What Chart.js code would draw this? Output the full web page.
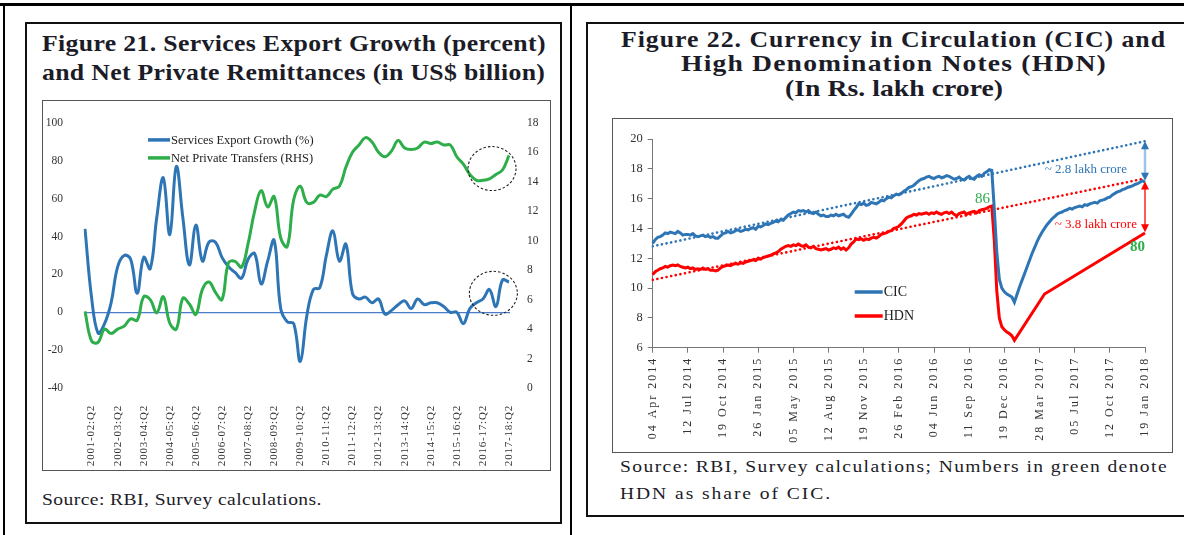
<!DOCTYPE html>
<html><head><meta charset="utf-8">
<script src="https://cdn.jsdelivr.net/npm/chart.js@4.4.0/dist/chart.umd.min.js"></script>
<style>
body{margin:0;background:#fff;}
#page{position:relative;width:1184px;height:535px;overflow:hidden;background:#fff;font-family:"Liberation Serif",serif;color:#1c1c28}
.ln{position:absolute;background:#000}
.box{position:absolute;box-sizing:border-box}
.t{position:absolute;white-space:nowrap;line-height:1;transform-origin:0 50%}
canvas{position:absolute}
</style></head><body><div id="page">
<div class="ln" style="left:0;top:3px;width:1184px;height:3px"></div>
<div class="ln" style="left:3px;top:3px;width:2px;height:532px"></div>
<div class="ln" style="left:570px;top:3px;width:2px;height:532px"></div>
<div class="box" style="left:25px;top:22px;width:537px;height:502px;border:2.5px solid #111"></div>
<div class="box" style="left:586px;top:22px;width:620px;height:495px;border:2.5px solid #111"></div>
<div class="box" style="left:42px;top:100px;width:509px;height:371px;border:1.5px solid #555"></div>
<div class="box" style="left:612px;top:118px;width:561px;height:335px;border:1.5px solid #555"></div>

<div class="t fit" data-w="504" data-m="1.12" style="left:42px;top:32px;font-size:23px;font-weight:bold">Figure 21. Services Export Growth (percent)</div>
<div class="t fit" data-w="503" data-m="1.12" style="left:42px;top:61px;font-size:23px;font-weight:bold">and Net Private Remittances (in US$ billion)</div>
<div class="t fit" data-w="545" data-m="1.12" style="left:621px;top:28px;font-size:23px;font-weight:bold">Figure 22. Currency in Circulation (CIC) and</div>
<div class="t fit" data-w="426" data-m="1.2" style="left:681px;top:52px;font-size:23px;font-weight:bold">High Denomination Notes (HDN)</div>
<div class="t fit" data-w="218" data-m="1.2" style="left:785px;top:77px;font-size:23px;font-weight:bold">(In Rs. lakh crore)</div>
<div class="t fit" data-w="280" data-m="1.15" style="left:42px;top:491px;font-size:17px">Source: RBI, Survey calculations.</div>
<div class="t fit" data-w="548" data-m="1.15" style="left:620px;top:458px;font-size:17px">Source: RBI, Survey calculations; Numbers in green denote</div>
<div class="t fit" data-w="212" data-m="1.15" style="left:620px;top:485px;font-size:17px">HDN as share of CIC.</div>

<canvas id="c1" width="504" height="366" style="left:44px;top:102px"></canvas>
<canvas id="c2" width="556" height="330" style="left:614px;top:120px"></canvas>
</div>
<script>
// ---------- Figure 21 data (quarterly, 2001-02:Q1 .. 2017-18:Q2) ----------
const quarters = [];
for (let fy = 2001; fy <= 2017; fy++) {
  for (let q = 1; q <= 4; q++) {
    if (quarters.length < 66) quarters.push(fy + '-' + String((fy + 1) % 100).padStart(2, '0') + ':Q' + q);
  }
}
const exportGrowth = [44, 8, -11, -6, 5, 24, 30, 28, 10, 29, 23, 50, 71, 41, 77, 50, 25, 46, 27, 37,
  37, 29, 24, 21, 18, 28, 31, 15, 27, 38, 2, -5, -6, -26, -2, 12, 13, 30, 43, 27,
  36, 10, 7, 8, 5, 7, -1, 1, 4, 6, 2, 7, 4, 5, 5, 3, 0, 0, -6, 2,
  5, 7, 12, 3, 17, 16];
const privateTransfers = [5.2, 3.2, 3.1, 4.0, 3.7, 4.0, 4.2, 4.7, 4.6, 6.2, 6.0, 5.1, 6.2, 4.4, 4.0, 6.1, 5.7, 5.0, 6.7, 7.2,
  6.5, 6.0, 8.5, 8.6, 8.2, 9.8, 12.0, 13.4, 12.3, 13.0, 10.2, 9.6, 12.8, 13.7, 12.6, 12.6, 13.1, 13.0, 13.5, 13.7,
  15.0, 16.0, 16.5, 17.0, 16.7, 16.0, 15.7, 16.1, 16.8, 16.3, 16.2, 16.3, 16.7, 16.6, 16.7, 16.5, 16.5, 15.7, 15.2, 14.5,
  14.1, 14.1, 14.2, 14.5, 14.8, 15.8];
// dashed circles: [quarter index, value, axis]
const circles21 = [[62.4, 14.9, 'y1'], [62.6, 10, 'y']];

// ---------- Figure 22 data (weekly, 04 Apr 2014 .. 19 Jan 2018) ----------
const weeks = [];
for (let w = 0; w <= 196; w++) weeks.push(w);
const dateTicks = ['04 Apr 2014', '12 Jul 2014', '19 Oct 2014', '26 Jan 2015', '05 May 2015', '12 Aug 2015',
  '19 Nov 2015', '26 Feb 2016', '04 Jun 2016', '11 Sep 2016', '19 Dec 2016', '28 Mar 2017', '05 Jul 2017',
  '12 Oct 2017', '19 Jan 2018'];
const cic = [
  13.0, 13.25, 13.4, 13.45, 13.55, 13.7, 13.65, 13.75, 13.7, 13.65,
  13.8, 13.7, 13.55, 13.6, 13.6, 13.55, 13.65, 13.5, 13.45, 13.5,
  13.55, 13.45, 13.5, 13.4, 13.45, 13.35, 13.35, 13.5, 13.65, 13.7,
  13.8, 13.7, 13.75, 13.85, 13.9, 13.8, 13.85, 13.95, 13.9, 14.0,
  14.05, 13.95, 14.15, 14.1, 14.2, 14.3, 14.25, 14.35, 14.4, 14.5,
  14.45, 14.6, 14.55, 14.75, 14.9, 15.0, 15.1, 15.05, 15.2, 15.15,
  15.2, 15.1, 15.2, 15.05, 15.0, 15.1, 14.95, 14.85, 14.9, 14.8,
  14.8, 14.9, 14.85, 14.95, 14.85, 14.9, 14.95, 14.8, 14.75, 14.95,
  15.2, 15.4, 15.65, 15.6, 15.7, 15.55, 15.6, 15.75, 15.7, 15.65,
  15.75, 15.9, 15.85, 16.0, 16.1, 16.05, 16.2, 16.3, 16.25, 16.35,
  16.5, 16.6, 16.75, 16.8, 16.9, 17.05, 17.2, 17.3, 17.35, 17.45,
  17.5, 17.4, 17.35, 17.45, 17.5, 17.4, 17.45, 17.55, 17.5, 17.4,
  17.3, 17.35, 17.45, 17.3, 17.25, 17.4, 17.5, 17.35, 17.3, 17.5,
  17.6, 17.5, 17.7, 17.8, 17.95, 17.9, 15.3, 12.4, 10.6, 10.0,
  9.75, 9.6, 9.5, 9.4, 9.05, 9.55, 10.05, 10.5, 10.95, 11.4,
  11.85, 12.3, 12.7, 13.1, 13.45, 13.75, 14.0, 14.25, 14.45, 14.65,
  14.8, 14.95, 15.05, 15.1, 15.2, 15.25, 15.35, 15.3, 15.4, 15.45,
  15.5, 15.45, 15.6, 15.55, 15.65, 15.7, 15.75, 15.7, 15.85, 15.9,
  15.95, 16.05, 16.1, 16.25, 16.35, 16.45, 16.5, 16.6, 16.65, 16.75,
  16.8, 16.85, 16.95, 17.0, 17.1, 17.2, 17.1];
const hdnWeekly = [
  10.9, 11.1, 11.2, 11.3, 11.35, 11.45, 11.4, 11.5, 11.55, 11.5,
  11.55, 11.45, 11.4, 11.35, 11.4, 11.3, 11.35, 11.25, 11.3, 11.25,
  11.35, 11.25, 11.3, 11.2, 11.2, 11.15, 11.2, 11.35, 11.45, 11.5,
  11.55, 11.5, 11.6, 11.65, 11.6, 11.7, 11.65, 11.75, 11.8, 11.85,
  11.9, 11.85, 12.0, 11.95, 12.05, 12.1, 12.15, 12.2, 12.3, 12.35,
  12.45, 12.6, 12.7, 12.8, 12.85, 12.8, 12.9, 12.85, 12.95, 12.85,
  12.8, 12.9, 12.75, 12.7, 12.8, 12.65, 12.6, 12.55, 12.6, 12.65,
  12.55, 12.6, 12.7, 12.65, 12.75, 12.6, 12.7, 12.55, 12.7, 12.95,
  13.1, 13.3, 13.25, 13.3, 13.2, 13.3, 13.25, 13.35, 13.4, 13.35,
  13.45, 13.6, 13.65, 13.7, 13.8, 13.85, 14.0, 14.05, 14.15, 14.3,
  14.5, 14.7, 14.8, 14.85, 14.95, 14.9, 15.0, 14.95, 15.0, 15.05,
  14.95, 15.05, 15.0, 15.1, 15.0, 14.95, 15.05, 15.1, 15.0, 15.1,
  14.95, 14.85, 15.0, 15.05, 15.1, 14.95, 15.05, 15.1, 15.15, 15.05,
  15.2, 15.25, 15.3, 15.35, 15.45, 15.5, 13.2, 9.8, 8.0, 7.4,
  7.2, 7.05, 6.95, 6.8, 6.5];
const hdnLater = [[156, 9.6], [196, 13.7]];           // [week, value] after the trough
const cicTrend = [[0, 12.8], [196, 19.85]];
const hdnTrend = [[0, 10.55], [196, 17.35]];
const gapArrows = [[196, 19.85, 17.2, 'cic'], [196, 17.15, 13.75, 'hdn']];
const notes22 = [
  [131.3, 15.97, '86', 'green', 'center'],
  [193, 12.75, '80', 'green', 'center'],
  [156.1, 17.92, '~ 2.8 lakh crore', 'cic', 'left'],
  [160.1, 14.23, '~ 3.8 lakh crore', 'hdn', 'left']
];

// ---------- helpers ----------
const sparse = (pairs) => { const a = weeks.map(() => null); pairs.forEach(([w, v]) => { a[w] = v; }); return a; };
const hdn = weeks.map((w) => (w < hdnWeekly.length ? hdnWeekly[w] : null));
hdnLater.forEach(([w, v]) => { hdn[w] = v; });

const COL = { blue: '#2E75B6', green: '#2DAE4A', cic: '#2E75B6', hdn: '#FF0000', text: '#333' };
const FAM = '"Liberation Serif", serif';
Chart.defaults.font.family = FAM;
Chart.defaults.color = COL.text;

function spacingPlugin(px) {
  return {
    id: 'spacing',
    afterLayout(chart) {
      const s = chart.scales.x;
      if (!s || s.__p) return;
      const o = s.drawLabels;
      s.drawLabels = function (a) { const c = this.ctx; c.save(); c.letterSpacing = px + 'px'; o.call(this, a); c.restore(); };
      s.__p = true;
    }
  };
}

// legend drawn inside plot area
function innerLegend(items, dx, dy, gap, len, size) {
  return {
    id: 'innerLegend',
    afterDraw(chart) {
      const ctx = chart.ctx, a = chart.chartArea;
      ctx.save();
      ctx.font = size + 'px ' + FAM;
      ctx.textBaseline = 'middle';
      items.forEach((di, k) => {
        const ds = chart.data.datasets[di];
        const y = a.top + dy + k * gap, x = a.left + dx;
        ctx.strokeStyle = ds.borderColor; ctx.lineWidth = 3.5; ctx.lineCap = 'butt';
        ctx.beginPath(); ctx.moveTo(x, y); ctx.lineTo(x + len, y); ctx.stroke();
        ctx.fillStyle = '#222';
        ctx.fillText(ds.label, x + len + 1, y + 0.5);
      });
      ctx.restore();
    }
  };
}

// ---------- Figure 21 ----------
new Chart(document.getElementById('c1'), {
  type: 'line',
  data: {
    labels: quarters,
    datasets: [
      { label: 'Services Export Growth (%)', data: exportGrowth, borderColor: COL.blue, borderWidth: 3, pointRadius: 0, tension: 0.4, yAxisID: 'y', order: 1 },
      { label: 'Net Private Transfers (RHS)', data: privateTransfers, borderColor: COL.green, borderWidth: 3, pointRadius: 0, tension: 0.4, yAxisID: 'y1', order: 0 }
    ]
  },
  options: {
    responsive: false, animation: false, events: [],
    layout: { padding: { top: 18, left: 0, right: 0, bottom: 0 } },
    plugins: { legend: { display: false }, tooltip: { enabled: false } },
    scales: {
      x: {
        type: 'category', offset: false,
        grid: { display: false }, border: { display: false },
        ticks: {
          autoSkip: false, minRotation: 90, maxRotation: 90, padding: 9, color: '#333',
          font: { size: 11 },
          callback(v, i) { return i % 4 === 1 ? this.getLabelForValue(v) : null; }
        },
        afterFit(s) { s.height = 80; }
      },
      x0: {
        type: 'category', offset: false, position: { y: 0 },
        grid: { display: false }, border: { display: true, color: '#4A7CC9', width: 1.3 },
        ticks: { display: false },
        afterFit(s) { s.height = 0; }
      },
      y: {
        position: 'left', min: -40, max: 100,
        grid: { display: false }, border: { display: false },
        ticks: { stepSize: 20, padding: 14, font: { size: 11.5 }, color: '#333' },
        afterFit(s) { s.width = 41; }
      },
      y1: {
        position: 'right', min: 0, max: 18,
        grid: { display: false }, border: { display: false },
        ticks: { stepSize: 2, padding: 10, font: { size: 11.5 }, color: '#333' },
        afterFit(s) { s.width = 39; }
      }
    }
  },
  plugins: [
    spacingPlugin(0.8),
    innerLegend([0, 1], 63, 17, 18, 22, 12.5),
    {
      id: 'circles',
      afterDatasetsDraw(chart) {
        const ctx = chart.ctx, xs = chart.scales.x;
        ctx.save();
        ctx.strokeStyle = '#222'; ctx.lineWidth = 1.1; ctx.setLineDash([2.5, 2]);
        circles21.forEach(([i, v, ax]) => {
          const x = xs.getPixelForValue(i), y = chart.scales[ax].getPixelForValue(v);
          ctx.beginPath(); ctx.ellipse(x, y, 24, 22, 0, 0, Math.PI * 2); ctx.stroke();
        });
        ctx.restore();
      }
    }
  ]
});

// ---------- Figure 22 ----------
new Chart(document.getElementById('c2'), {
  type: 'line',
  data: {
    labels: weeks,
    datasets: [
      { label: 'CIC', data: cic, borderColor: COL.cic, borderWidth: 3, pointRadius: 0, tension: 0 },
      { label: 'HDN', data: hdn, borderColor: COL.hdn, borderWidth: 3, pointRadius: 0, tension: 0, spanGaps: true },
      { label: 'CIC trend', data: sparse(cicTrend), borderColor: COL.cic, borderWidth: 2.6, pointRadius: 0, spanGaps: true, borderDash: [0.1, 4.6], borderCapStyle: 'round' },
      { label: 'HDN trend', data: sparse(hdnTrend), borderColor: COL.hdn, borderWidth: 2.6, pointRadius: 0, spanGaps: true, borderDash: [0.1, 4.6], borderCapStyle: 'round' }
    ]
  },
  options: {
    responsive: false, animation: false, events: [],
    layout: { padding: { top: 19, left: 0, right: 25, bottom: 0 } },
    plugins: { legend: { display: false }, tooltip: { enabled: false } },
    scales: {
      x: {
        type: 'category', offset: false,
        grid: { drawOnChartArea: false, drawTicks: true, tickLength: 5, color: '#777' },
        border: { display: true, color: '#777', width: 1 },
        ticks: {
          autoSkip: false, minRotation: 90, maxRotation: 90, padding: 4, color: '#333',
          font: { size: 12 },
          callback(v, i) { return i % 14 === 0 ? dateTicks[i / 14] : null; }
        },
        afterFit(s) { s.height = 102.3; }
      },
      y: {
        position: 'left', min: 6, max: 20,
        grid: { drawOnChartArea: false, drawTicks: true, tickLength: 5, color: '#777' },
        border: { display: true, color: '#777', width: 1 },
        ticks: { stepSize: 2, padding: 5, font: { size: 12.5 }, color: '#333' },
        afterFit(s) { s.width = 38.7; }
      }
    }
  },
  plugins: [
    spacingPlugin(2),
    innerLegend([0, 1], 202, 153, 24, 28, 14),
    {
      id: 'notes',
      afterDatasetsDraw(chart) {
        const ctx = chart.ctx, xs = chart.scales.x, ys = chart.scales.y;
        ctx.save();
        gapArrows.forEach(([w, v1, v2, key]) => {
          const x = xs.getPixelForValue(w), y1 = ys.getPixelForValue(v1), y2 = ys.getPixelForValue(v2);
          const head = key === 'cic' ? '#2E75B6' : '#FF0000';
          ctx.strokeStyle = key === 'cic' ? '#9DC3E6' : '#FF0000';
          ctx.lineWidth = key === 'cic' ? 2.5 : 1.3;
          ctx.beginPath(); ctx.moveTo(x, y1 + 6); ctx.lineTo(x, y2 - 6); ctx.stroke();
          ctx.fillStyle = head;
          ctx.beginPath(); ctx.moveTo(x, y1); ctx.lineTo(x - 4, y1 + 8); ctx.lineTo(x + 4, y1 + 8); ctx.closePath(); ctx.fill();
          ctx.beginPath(); ctx.moveTo(x, y2); ctx.lineTo(x - 4, y2 - 8); ctx.lineTo(x + 4, y2 - 8); ctx.closePath(); ctx.fill();
        });
        ctx.textBaseline = 'middle';
        notes22.forEach(([w, v, txt, key, align]) => {
          const big = key === 'green';
          ctx.font = (big ? (txt === '80' ? 'bold 15px ' : '15px ') : '13px ') + FAM;
          ctx.fillStyle = key === 'green' ? '#2DAE4A' : (key === 'cic' ? COL.cic : COL.hdn);
          ctx.textAlign = align;
          ctx.fillText(txt, xs.getPixelForValue(w), ys.getPixelForValue(v));
        });
        ctx.restore();
      }
    }
  ]
});

// fit text lines to measured widths: mild horizontal stretch plus letter spacing
document.querySelectorAll('.fit').forEach((el) => {
  const target = +el.dataset.w;
  const maxS = +el.dataset.m;
  const nat = el.getBoundingClientRect().width;
  const n = el.textContent.length;
  const s = Math.min(Math.max(target / nat, 0.9), maxS);
  const ls = (target / s - nat) / n;
  el.style.letterSpacing = ls.toFixed(2) + 'px';
  el.style.transform = 'scaleX(' + s.toFixed(3) + ')';
});
</script>
</body></html>
